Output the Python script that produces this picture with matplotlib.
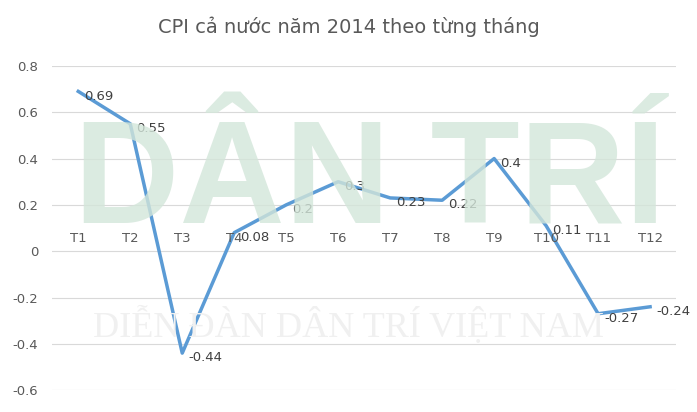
import matplotlib
matplotlib.use("Agg")
import matplotlib.pyplot as plt
import numpy as np

months = ["T1", "T2", "T3", "T4", "T5", "T6", "T7", "T8", "T9", "T10", "T11", "T12"]
cpi = [0.69, 0.55, -0.44, 0.08, 0.2, 0.3, 0.23, 0.22, 0.4, 0.11, -0.27, -0.24]
labels = ["0.69", "0.55", "-0.44", "0.08", "0.2", "0.3", "0.23", "0.22", "0.4", "0.11", "-0.27", "-0.24"]
yticks = [0.8, 0.6, 0.4, 0.2, 0, -0.2, -0.4, -0.6]

fig = plt.figure(figsize=(6.97, 4.12), dpi=100)
ax = fig.add_axes([0.075, 0.053, 0.895, 0.787])
x = np.arange(len(months))

# faint watermark behind the chart
fig.text(0.53, 0.55, "DÂN TRÍ", fontsize=105, color="#d3e6da", ha="center", va="center",
         fontweight="bold", family="Liberation Sans", zorder=0, alpha=0.8)
fig.text(0.5, 0.21, "DIỄN ĐÀN DÂN TRÍ VIỆT NAM", fontsize=26, color="#f0f0f0",
         ha="center", va="center", family="Liberation Serif", zorder=0)
ax.set_facecolor("none")

for t in yticks:
    ax.axhline(t, color="#d9d9d9", lw=0.8, zorder=1)
ax.plot(x, cpi, color="#5b9bd5", lw=2.5, zorder=3)
for xi, v, s in zip(x, cpi, labels):
    ax.text(xi + 0.12, v - 0.02, s, fontsize=9.5, color="#404040", va="center", ha="left", zorder=4)
for xi, m in zip(x, months):
    ax.text(xi, 0.025, m, fontsize=9.5, color="#595959", ha="center", va="bottom", zorder=4)

ax.set_xlim(-0.5, 11.5)
ax.set_ylim(-0.6, 0.8)
ax.set_yticks(yticks)
ax.set_yticklabels(["0.8", "0.6", "0.4", "0.2", "0", "-0.2", "-0.4", "-0.6"], fontsize=9.5, color="#595959")
ax.set_xticks([])
ax.tick_params(axis="y", length=0, pad=10)
for s in ax.spines.values():
    s.set_visible(False)

fig.text(0.5, 0.92, "CPI cả nước năm 2014 theo từng tháng", fontsize=14, color="#595959", ha="center")
fig.savefig("out.png", dpi=100)
